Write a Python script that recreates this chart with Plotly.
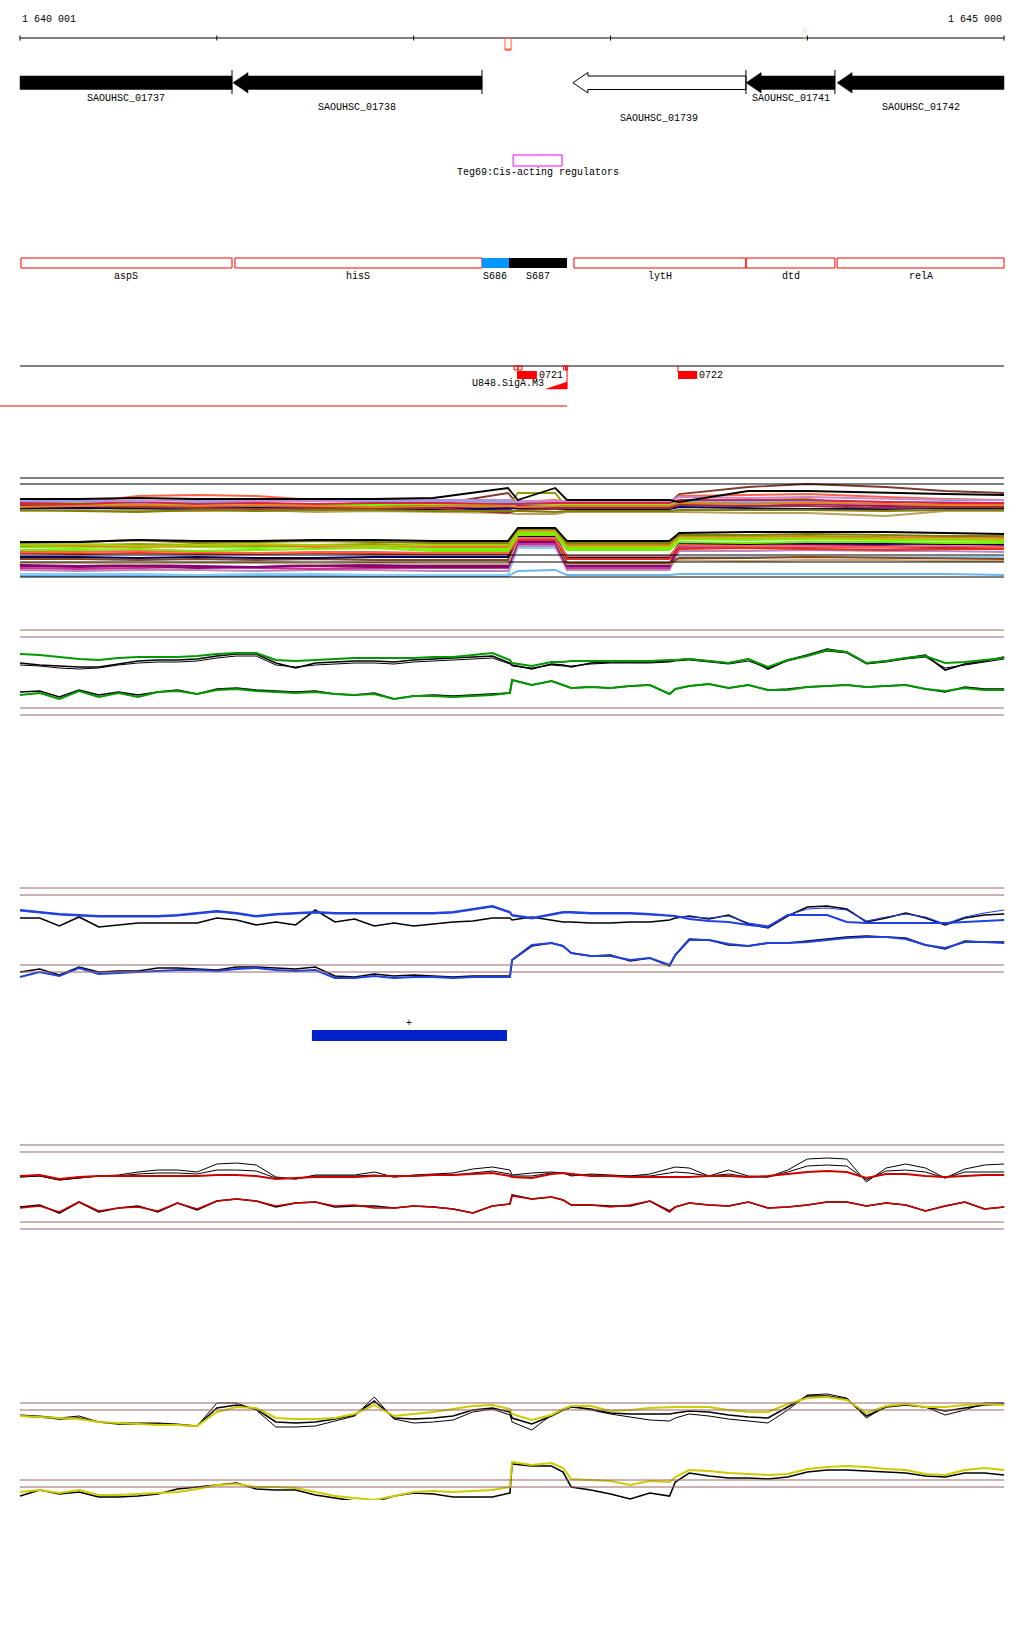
import plotly.graph_objects as go

# ======================= DATA =======================
VIEW_START = 1640001
VIEW_END = 1645000

RULER_TICKS = [1640001, 1641001, 1642001, 1643001, 1644001, 1645000]
RULER_LABELS = ["1 640 001", "1 645 000"]
RULER_MARK = [1642465, 1642496]
RULER_MARK2 = [1643979, 1643994]

GENE_NAMES = ["SAOUHSC_01737", "SAOUHSC_01738", "SAOUHSC_01739", "SAOUHSC_01741", "SAOUHSC_01742"]
GENE_STARTS = [1639400, 1641083, 1642810, 1643690, 1644152]
GENE_ENDS = [1641078, 1642348, 1643689, 1644141, 1645600]
GENE_STRANDS = ["-", "-", "-", "-", "-"]
GENE_FILLED = [True, True, False, True, True]

FEATURE_NAMES = ["aspS", "hisS", "S686", "S687", "lytH", "dtd", "relA"]
FEATURE_STARTS = [1640006, 1641093, 1642348, 1642485, 1642815, 1643690, 1644152]
FEATURE_ENDS = [1641078, 1642348, 1642485, 1642780, 1643689, 1644141, 1645000]
FEATURE_KIND = ["cds", "cds", "srna_blue", "srna_black", "cds", "cds", "cds"]

REGULATOR_NAME = "Teg69:Cis-acting regulators"
REGULATOR_SPAN = [1642506, 1642755]

TSS_NAMES = ["0721", "0722"]
TSS_STARTS = [1642526, 1643344]
TSS_ENDS = [1642627, 1643441]
TSS_SMALL_STARTS = [1642511, 1642531, 1642763, 1642773]
TSS_SMALL_ENDS = [1642531, 1642551, 1642773, 1642783]
PROMOTER_NAME = "U848.SigA.M3"
PROMOTER_SPAN = [1642673, 1642780]
TU_END = 1642780

BLUE_BLOCK_SPAN = [1641484, 1642475]
BLUE_BLOCK_STRAND = "+"

# dense multi-sample track
X_DENSE = [1640001, 1640300, 1640600, 1640900, 1641200, 1641500, 1641800, 1642100, 1642480,
           1642530, 1642720, 1642780, 1643300, 1643350, 1643700, 1644000, 1644400, 1644700, 1645000]

DENSE_REF = [478, 484, 555, 562, 577]

DENSE_UP = {
    "#7a3b2e": [505,505,504,506,506,505,506,505,493,504,503,503,503,494,487,484,487,491,493],
    "#ff6347": [503,503,496,495,496,500,502,502,500,502,500,502,502,496,495,494,497,499,500],
    "#999900": [509,507,510,508,507,508,509,508,507,493,493,508,508,500,500,499,507,505,506],
    "#66ff00": [504,503,505,504,503,505,505,504,505,505,504,505,505,502,503,502,505,504,504],
    "#66b3ff": [502,501,503,502,502,500,502,501,502,503,502,502,503,501,502,501,502,502,503],
    "#990099": [506,507,506,507,508,507,507,507,510,506,507,507,506,505,506,504,506,507,506],
    "#000066": [508,508,508,509,508,509,509,510,508,508,509,509,509,507,508,509,509,508,509],
    "#b8a060": [511,510,511,511,510,512,511,512,513,514,514,512,512,512,513,513,516,511,511],
    "#993333": [505,506,507,508,509,508,508,508,513,510,509,508,508,505,506,506,508,507,507],
    "#dd2244": [503,504,502,504,503,504,503,503,504,504,503,503,503,500,500,500,502,503,503],
    "#cc88cc": [500,500,501,500,501,501,500,500,500,501,501,501,501,497,498,497,499,500,500],
    "#ee7722": [507,506,505,506,505,506,507,506,506,507,506,506,506,503,504,503,504,505,505],
    "#808000": [510,511,512,510,511,510,510,511,511,511,512,511,511,510,510,510,511,510,510],
    "#000000": [499,499,498,499,499,499,499,498,488,500,488,500,500,502,491,491,493,494,495],
}

DENSE_LOW = {
    "#6cb4ee": [576,576,576,576,576,576,576,576,576,571,570,575,575,574,574,574,574,574,575],
    "#87cefa": [574,574,574,575,574,574,575,575,575,548,548,567,567,557,557,557,557,557,557],
    "#bb88bb": [570,571,570,570,571,570,570,571,571,546,546,570,570,551,551,550,551,551,552],
    "#cc3399": [568,569,568,567,568,569,568,568,568,544,544,568,568,547,548,547,548,548,548],
    "#990066": [566,567,566,568,567,566,567,567,567,541,541,565,565,543,543,544,544,543,543],
    "#800080": [565,566,565,566,567,565,565,566,566,542,542,566,566,545,546,545,546,547,546],
    "#c8a878": [563,563,564,563,563,564,563,564,564,540,540,564,564,560,561,560,560,561,561],
    "#8b4513": [559,559,560,559,560,559,560,560,560,537,537,563,563,558,558,557,558,559,559],
    "#000066": [557,557,558,557,558,558,557,557,557,536,536,557,557,544,544,543,544,544,544],
    "#e03020": [553,554,553,554,554,553,554,554,554,540,540,559,559,549,548,549,550,549,549],
    "#ff6347": [552,552,551,552,553,552,552,553,553,538,538,556,556,545,546,546,547,546,547],
    "#77ee00": [550,550,549,551,550,549,548,551,551,535,535,550,550,542,543,542,542,543,543],
    "#66ff00": [547,548,546,547,548,546,546,549,549,533,533,548,548,539,540,539,540,540,541],
    "#999900": [546,545,544,545,546,545,544,546,546,531,531,545,545,537,537,536,537,538,537],
    "#ee7733": [545,546,547,546,545,547,546,547,547,530,530,546,546,536,536,537,538,537,538],
    "#aacc00": [545,544,546,545,544,545,546,545,545,532,532,547,547,538,538,538,539,539,540],
    "#808000": [543,542,540,543,542,541,542,543,543,529,529,543,543,535,535,534,535,536,536],
    "#000000": [542,542,540,541,541,540,540,541,541,528,528,541,541,533,532,532,532,533,534],
}

# wiggle tracks: 100 bp grid plus three extra sample points at the steps
X_WIG = sorted([VIEW_START + 100 * k for k in range(51)] + [1642490, 1642760, 1643330])

GREEN_REF = [630, 637, 708, 715]
GREEN_TOP_GREEN = [654,655,657,659,660,658,657,657,657,656,654,653,653,660,661,660,659,658,658,658,658,657,657,655,653,
                   660, 663,666,662, 662, 661,661,661,661,661,660, 660,
                   659,661,663,659,667,660,656,650,652,663,661,658,656,663,662,660,658]
GREEN_TOP_BLACK = [663,665,666,667,667,664,661,660,660,659,656,654,654,663,668,663,662,661,661,662,660,659,658,657,656,
                   663, 665,669,664, 665, 667,663,662,662,662,661, 660,
                   659,661,663,659,669,660,655,649,652,663,661,658,655,670,664,661,657]
GREEN_TOP_BLACK2 = [665,666,668,669,668,665,663,662,662,661,658,656,656,665,667,665,664,663,663,664,662,661,660,659,658,
                    664, 666,668,665, 666, 666,664,663,663,663,662, 661,
                    660,662,664,661,668,661,656,651,653,664,662,659,657,668,665,662,659]
GREEN_BOT_GREEN = [695,693,699,691,697,693,697,692,691,694,690,689,691,692,693,692,694,695,694,699,696,696,697,696,695,
                   693, 680,685,681, 685, 688,687,688,686,685,694, 689,
                   686,684,688,685,690,690,687,686,685,687,686,685,689,691,688,690,690]
GREEN_BOT_BLACK = [692,691,697,690,695,692,695,692,690,694,689,688,690,691,692,691,694,695,693,699,696,695,696,695,694,
                   693, 680,685,681, 685, 688,687,688,686,685,694, 689,
                   686,684,688,685,690,689,687,686,685,687,686,685,689,692,687,689,689]

BLUE_REF = [888, 895, 965, 972]
BLUE_TOP_BLUE = [910,912,914,915,916,916,916,916,915,913,911,913,916,914,913,912,913,913,913,913,913,913,912,909,906,
                 912, 915,918,914, 912, 912,913,913,913,914,915, 916,
                 919,921,922,925,927,915,915,915,922,923,923,923,923,923,922,921,920]
BLUE_TOP_BLUE2 = [911,913,915,916,917,917,917,917,916,914,912,914,917,915,914,913,914,914,914,914,914,914,913,910,907,
                  913, 916,919,915, 913, 913,914,914,914,915,916, 917,
                  917,918,916,923,926,915,909,908,910,921,917,914,917,924,917,913,910]
BLUE_TOP_BLACK = [918,918,926,917,927,925,923,923,923,923,918,920,925,922,925,910,922,919,926,923,926,924,922,921,918,
                  918, 920,917,920, 922, 922,923,923,922,922,920, 918,
                  916,919,915,924,928,916,907,906,909,922,918,913,918,925,918,915,914]
BLUE_BOT_BLUE = [977,972,976,968,974,973,972,971,970,970,971,969,968,970,971,970,978,978,976,978,977,977,978,977,977,
                 977, 960,945,943, 946, 953,956,956,960,958,965, 955,
                 940,940,944,946,943,943,942,940,938,937,937,939,945,948,942,942,943]
BLUE_BOT_BLACK = [972,969,975,967,972,971,971,968,968,969,970,967,967,968,969,967,976,977,974,976,975,976,977,976,976,
                  976, 960,946,943, 946, 953,956,955,961,958,966, 955,
                  939,940,945,946,943,943,941,939,937,936,937,938,945,949,941,942,942]

RED_REF = [1145, 1152, 1222, 1229]
RED_TOP_RED = [1176,1175,1179,1177,1176,1176,1176,1176,1176,1176,1175,1175,1176,1179,1178,1177,1177,1177,1176,1176,1176,1175,1175,1174,1173,
               1176, 1177,1178,1174, 1173, 1174,1176,1176,1177,1177,1177, 1177,
               1177,1176,1176,1177,1176,1174,1172,1171,1172,1178,1174,1174,1176,1177,1176,1175,1175]
RED_TOP_BLACK = [1177,1176,1180,1178,1176,1175,1172,1170,1170,1172,1164,1163,1165,1177,1179,1175,1175,1175,1172,1177,1175,1174,1173,1169,1167,
                 1170, 1175,1173,1172, 1173, 1176,1174,1175,1176,1174,1168, 1167,
                 1168,1176,1170,1176,1177,1170,1159,1158,1159,1182,1168,1164,1168,1178,1169,1165,1164]
RED_TOP_BLACK2 = [1177,1176,1180,1178,1176,1176,1174,1173,1173,1174,1170,1170,1171,1178,1179,1176,1176,1176,1175,1177,1176,1175,1175,1173,1171,
                  1174, 1176,1176,1173, 1173, 1175,1175,1176,1176,1176,1173, 1172,
                  1173,1176,1174,1177,1177,1172,1166,1165,1166,1180,1171,1170,1172,1178,1172,1172,1172]
RED_BOT_RED = [1208,1206,1212,1202,1211,1208,1207,1211,1203,1209,1201,1199,1201,1206,1203,1202,1206,1205,1208,1208,1206,1207,1209,1213,1206,
               1204, 1196,1199,1197, 1200, 1205,1205,1207,1205,1201,1212, 1207,
               1203,1205,1206,1202,1208,1207,1205,1202,1202,1206,1203,1205,1211,1206,1202,1209,1207]
RED_BOT_BLACK = [1207,1205,1213,1202,1212,1208,1206,1212,1203,1210,1201,1199,1201,1207,1203,1202,1207,1206,1206,1208,1206,1207,1209,1213,1206,
                 1204, 1195,1199,1197, 1200, 1205,1205,1206,1206,1201,1211, 1207,
                 1203,1205,1206,1202,1208,1207,1205,1202,1202,1206,1203,1205,1211,1206,1202,1209,1207]

YEL_REF = [1403, 1410, 1480, 1487]
YEL_TOP_YEL = [1416,1417,1418,1419,1422,1423,1424,1425,1425,1426,1412,1407,1408,1418,1419,1419,1418,1414,1405,1416,1414,1412,1409,1406,1405,
               1409, 1414,1420,1415, 1409, 1406,1406,1411,1410,1408,1407, 1407,
               1407,1407,1410,1412,1412,1404,1398,1397,1400,1413,1406,1404,1407,1407,1405,1404,1405]
YEL_TOP_BLACK = [1415,1416,1418,1416,1422,1423,1423,1423,1424,1426,1403,1403,1410,1427,1427,1426,1421,1416,1397,1419,1423,1422,1420,1412,1409,
                 1415, 1422,1430,1415, 1410, 1406,1410,1414,1417,1420,1421, 1418,
                 1414,1416,1419,1421,1423,1410,1395,1394,1398,1418,1406,1405,1407,1415,1410,1403,1403]
YEL_TOP_BLACK2 = [1416,1417,1419,1418,1422,1424,1424,1424,1425,1426,1408,1405,1409,1422,1423,1422,1419,1415,1401,1418,1419,1418,1416,1410,1408,
                  1412, 1418,1424,1416, 1410, 1407,1409,1413,1414,1414,1414, 1413,
                  1411,1412,1415,1417,1418,1407,1396,1396,1399,1416,1407,1405,1407,1411,1408,1405,1404]
YEL_BOT_YEL = [1492,1490,1493,1490,1495,1495,1494,1493,1492,1489,1485,1484,1487,1487,1488,1492,1496,1498,1500,1496,1492,1491,1492,1491,1490,
               1487, 1462,1465,1463, 1468, 1479,1480,1481,1485,1481,1482, 1477,
               1470,1471,1473,1474,1475,1474,1469,1467,1466,1467,1469,1470,1474,1475,1470,1468,1470]
YEL_BOT_BLACK = [1496,1490,1494,1492,1497,1497,1496,1494,1489,1487,1485,1483,1489,1490,1490,1495,1498,1501,1502,1496,1493,1494,1497,1497,1497,
                 1493, 1464,1466,1466, 1472, 1487,1490,1494,1499,1493,1496, 1482,
                 1473,1476,1478,1478,1479,1477,1472,1470,1470,1471,1472,1473,1476,1477,1473,1473,1475]

# ======================= LAYOUT CONSTANTS =======================
W, H = 1024, 1640
LEFT_PX, RIGHT_PX = 20, 1004
BPP = (VIEW_END - VIEW_START) / (RIGHT_PX - LEFT_PX)
X_RANGE = [VIEW_START - LEFT_PX * BPP, VIEW_END + (W - RIGHT_PX) * BPP]
HEAD = 15 * BPP
FONT = dict(family="Liberation Mono, DejaVu Sans Mono, monospace", size=10, color="black")
REF_COLOR = "#9a6666"

fig = go.Figure()
shapes = []
annots = []


def rect(x0, x1, y0, y1, line=None, fill=None, lw=1, yref="y"):
    shapes.append(dict(type="rect", xref="x", yref=yref, x0=x0, x1=x1, y0=y0, y1=y1,
                       line=dict(color=line or "rgba(0,0,0,0)", width=lw if line else 0),
                       fillcolor=fill or "rgba(0,0,0,0)", layer="above"))


def hline(x0, x1, y, color, lw=1, yref="y"):
    shapes.append(dict(type="line", xref="x", yref=yref, x0=x0, x1=x1, y0=y, y1=y,
                       line=dict(color=color, width=lw), layer="above"))


def vline(x, y0, y1, color, lw=1):
    shapes.append(dict(type="line", xref="x", yref="y", x0=x, x1=x, y0=y0, y1=y1,
                       line=dict(color=color, width=lw), layer="above"))


def text(x, y, s, anchor="center"):
    annots.append(dict(x=x, y=y, xref="x", yref="y", text=s, showarrow=False, font=FONT,
                       xanchor=anchor, yanchor="middle"))


# ---- ruler ----
hline(VIEW_START, VIEW_END, 38, "black")
for t in RULER_TICKS:
    vline(t, 35.5, 40.5, "black")
text(VIEW_START, 19, RULER_LABELS[0], "left")
text(VIEW_END, 19, RULER_LABELS[1], "right")
rect(RULER_MARK[0], RULER_MARK[1], 38, 50, line="#ff6040", lw=1)
rect(RULER_MARK[0], RULER_MARK[1], 48.5, 50.5, fill="#ff6040")
rect(RULER_MARK2[0], RULER_MARK2[1], 28, 37, line="#f4dcd4", lw=1)

# ---- genes ----
GENE_LABEL_Y = [98, 107, 118]
GENE_LABEL_ROW = [0, 1, 2, 0, 1]
BODY = (76, 89.5)
HEADY = (72.5, 93)
for i, name in enumerate(GENE_NAMES):
    s, e = GENE_STARTS[i], GENE_ENDS[i]
    vs, ve = max(s, VIEW_START), min(e, VIEW_END)
    yc = (BODY[0] + BODY[1]) / 2
    if GENE_STRANDS[i] == "-" and s >= VIEW_START:
        pts = [(s, yc), (s + HEAD, HEADY[0]), (s + HEAD, BODY[0]), (ve, BODY[0]), (ve, BODY[1]),
               (s + HEAD, BODY[1]), (s + HEAD, HEADY[1])]
    else:
        pts = [(vs, BODY[0]), (ve, BODY[0]), (ve, BODY[1]), (vs, BODY[1])]
    path = "M " + " L ".join(f"{x},{y}" for x, y in pts) + " Z"
    filled = GENE_FILLED[i]
    shapes.append(dict(type="path", xref="x", yref="y", path=path,
                       fillcolor="black" if filled else "white",
                       line=dict(color="black", width=1 if not filled else 0.5), layer="above"))
    if e <= VIEW_END:
        vline(e, 70, 94, "black")
    text((vs + ve) / 2, GENE_LABEL_Y[GENE_LABEL_ROW[i]], name)

# ---- regulator ----
rect(REGULATOR_SPAN[0], REGULATOR_SPAN[1], 155, 166, line="#ff00ff", lw=1)
text(sum(REGULATOR_SPAN) / 2, 172, REGULATOR_NAME)

# ---- feature row ----
for i, name in enumerate(FEATURE_NAMES):
    s, e = FEATURE_STARTS[i], FEATURE_ENDS[i]
    kind = FEATURE_KIND[i]
    if kind == "cds":
        rect(s, e, 258, 268, line="#ff0000", lw=1)
    elif kind == "srna_blue":
        rect(s, e, 258, 268, fill="#0096ff")
    else:
        rect(s, e, 258, 268, fill="black")
    text((s + e) / 2, 276, name)

# ---- TSS / promoter row ----
hline(VIEW_START, VIEW_END, 366, "black")
for s, e in zip(TSS_SMALL_STARTS, TSS_SMALL_ENDS):
    rect(s, e, 366, 370, line="#ff0000", lw=1)
for i, name in enumerate(TSS_NAMES):
    rect(TSS_STARTS[i], TSS_ENDS[i], 371, 379, fill="#ff0000")
    text(TSS_ENDS[i], 375, name, "left")
vline(TSS_STARTS[1], 366, 372, "#ff0000")
vline(TU_END, 366, 389, "#ff0000")
shapes.append(dict(type="path", xref="x", yref="y",
                   path=f"M {PROMOTER_SPAN[0]},389 L {PROMOTER_SPAN[1]},389 L {PROMOTER_SPAN[1]},382 Z",
                   fillcolor="#ff0000", line=dict(color="#ff0000", width=0.5), layer="above"))
text(PROMOTER_SPAN[0], 383, PROMOTER_NAME, "right")
hline(X_RANGE[0], TU_END, 406, "#ff0000")

# ---- blue block ----
rect(BLUE_BLOCK_SPAN[0], BLUE_BLOCK_SPAN[1], 1030, 1041, fill="#0022cc")
text(sum(BLUE_BLOCK_SPAN) / 2, 1023, BLUE_BLOCK_STRAND)


# ---- track axes ----
def dom(top, bottom):
    return [1 - bottom / H, 1 - top / H]


TRACKS = {
    "y2": (462, 590),
    "y3": (620, 725),
    "y4": (880, 1000),
    "y5": (1138, 1240),
    "y6": (1385, 1500),
}

for ref, vals in [("y2", DENSE_REF)]:
    for v in vals:
        hline(VIEW_START, VIEW_END, v, "black", 1, ref)
for ref, vals in [("y3", GREEN_REF), ("y4", BLUE_REF), ("y5", RED_REF), ("y6", YEL_REF)]:
    for v in vals:
        hline(VIEW_START, VIEW_END, v, REF_COLOR, 1.2, ref)


def line(x, y, color, width, yaxis):
    fig.add_trace(go.Scatter(x=x, y=y, mode="lines", line=dict(color=color, width=width),
                             yaxis=yaxis, hoverinfo="skip", showlegend=False))


for color, vals in DENSE_LOW.items():
    line(X_DENSE, vals, color, 1.8, "y2")
for color, vals in DENSE_UP.items():
    line(X_DENSE, vals, color, 1.8, "y2")

line(X_WIG, GREEN_TOP_BLACK2, "black", 1, "y3")
line(X_WIG, GREEN_TOP_BLACK, "black", 1.6, "y3")
line(X_WIG, GREEN_TOP_GREEN, "#009900", 2, "y3")
line(X_WIG, GREEN_BOT_BLACK, "black", 1.6, "y3")
line(X_WIG, GREEN_BOT_GREEN, "#009900", 2, "y3")

line(X_WIG, BLUE_TOP_BLACK, "black", 1.6, "y4")
line(X_WIG, BLUE_TOP_BLUE2, "#2040e0", 1.2, "y4")
line(X_WIG, BLUE_TOP_BLUE, "#2040e0", 2, "y4")
line(X_WIG, BLUE_BOT_BLACK, "black", 1.6, "y4")
line(X_WIG, BLUE_BOT_BLUE, "#2040e0", 2, "y4")

line(X_WIG, RED_TOP_BLACK, "black", 1, "y5")
line(X_WIG, RED_TOP_BLACK2, "black", 1, "y5")
line(X_WIG, RED_TOP_RED, "#cc0000", 2, "y5")
line(X_WIG, RED_BOT_BLACK, "black", 1.6, "y5")
line(X_WIG, RED_BOT_RED, "#cc0000", 1.6, "y5")

line(X_WIG, YEL_TOP_BLACK, "black", 1, "y6")
line(X_WIG, YEL_TOP_BLACK2, "black", 1.6, "y6")
line(X_WIG, YEL_TOP_YEL, "#cccc00", 2, "y6")
line(X_WIG, YEL_BOT_BLACK, "black", 1.6, "y6")
line(X_WIG, YEL_BOT_YEL, "#cccc00", 2, "y6")

axis_off = dict(visible=False, showgrid=False, zeroline=False, fixedrange=True)
layout_axes = dict(
    xaxis=dict(range=X_RANGE, domain=[0, 1], **axis_off),
    yaxis=dict(range=[H, 0], domain=[0, 1], **axis_off),
)
for i, (ref, (top, bottom)) in enumerate(TRACKS.items()):
    name = "yaxis" + ref[1:]
    layout_axes[name] = dict(range=[bottom, top], domain=dom(top, bottom), anchor="x", **axis_off)

fig.update_layout(
    width=W, height=H, autosize=False,
    margin=dict(l=0, r=0, t=0, b=0, pad=0),
    paper_bgcolor="white", plot_bgcolor="white",
    showlegend=False, hovermode=False,
    shapes=shapes, annotations=annots,
    **layout_axes,
)

fig.write_html("out.html", config={"displayModeBar": False, "staticPlot": True},
               post_script="document.body.style.margin='0px';document.body.style.padding='0px';")
